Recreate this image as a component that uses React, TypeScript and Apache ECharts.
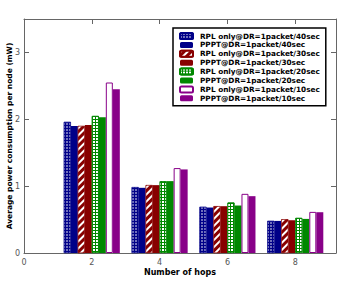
import React, { useEffect, useRef } from "react";
import * as echarts from "echarts";

const hops = [2, 4, 6, 8];
const seriesNames = [
  "RPL only@DR=1packet/40sec",
  "PPPT@DR=1packet/40sec",
  "RPL only@DR=1packet/30sec",
  "PPPT@DR=1packet/30sec",
  "RPL only@DR=1packet/20sec",
  "PPPT@DR=1packet/20sec",
  "RPL only@DR=1packet/10sec",
  "PPPT@DR=1packet/10sec",
];
const rpl40 = [1.96, 0.985, 0.69, 0.48];
const pppt40 = [1.9, 0.975, 0.68, 0.48];
const rpl30 = [1.9, 1.015, 0.7, 0.505];
const pppt30 = [1.915, 1.015, 0.7, 0.49];
const rpl20 = [2.05, 1.075, 0.755, 0.525];
const pppt20 = [2.03, 1.075, 0.71, 0.51];
const rpl10 = [2.55, 1.27, 0.885, 0.615];
const pppt10 = [2.45, 1.25, 0.85, 0.61];
const allValues = [rpl40, pppt40, rpl30, pppt30, rpl20, pppt20, rpl10, pppt10];

const NAVY = "#000088";
const RED = "#880000";
const GREEN = "#008800";
const PURPLE = "#880088";

const styles: any[] = [
  {
    color: NAVY,
    borderColor: NAVY,
    borderWidth: 0.5,
    decal: { symbol: "diamond", symbolSize: 0.9, color: "#ffffff", dashArrayX: [2, 1], dashArrayY: [2, 1] },
  },
  { color: NAVY },
  {
    color: RED,
    borderColor: RED,
    borderWidth: 0.5,
    decal: { symbol: "rect", symbolSize: 1, color: "#ffffff", dashArrayX: [1, 0], dashArrayY: [2, 3], rotation: -Math.PI / 4 },
  },
  { color: RED },
  {
    color: GREEN,
    borderColor: GREEN,
    borderWidth: 0.8,
    decal: { symbol: "rect", symbolSize: 1, color: "#ffffff", dashArrayX: [2, 1], dashArrayY: [2, 1] },
  },
  { color: GREEN },
  {
    color: "#ffffff",
    borderColor: PURPLE,
    borderWidth: 1,
  },
  { color: PURPLE },
];

export default function App() {
  const ref = useRef<HTMLDivElement>(null);
  useEffect(() => {
    if (!ref.current) return;
    const chart = echarts.init(ref.current, null, { renderer: "svg" });
    const axisLine = { show: true, onZero: false, lineStyle: { color: "#666", width: 1 } };
    const tick = { show: true, inside: true, length: 5, lineStyle: { color: "#666" } };
    chart.setOption({
      animation: false,
      backgroundColor: "#ffffff",
      textStyle: { fontFamily: "DejaVu Sans" },
      grid: {
        left: 24,
        top: 19,
        width: 312,
        height: 234,
        containLabel: false,
        outerBoundsMode: "none",
      },
      legend: {
        orient: "vertical",
        left: 173,
        top: 28,
        backgroundColor: "#ffffff",
        borderColor: "#000",
        borderWidth: 1.5,
        borderRadius: 0,
        padding: [4, 6, 4, 6],
        itemGap: 1.4,
        itemWidth: 13,
        itemHeight: 6,
        textStyle: { fontSize: 7.3, fontWeight: "bold", color: "#000", padding: [0, 0, 0, 2] },
        data: seriesNames,
      },
      xAxis: [
        {
          type: "value",
          min: 0,
          max: 9.2,
          interval: 2,
          position: "bottom",
          name: "Number of hops",
          nameLocation: "middle",
          nameGap: 15,
          nameMoveOverlap: false,
          nameTextStyle: { fontSize: 8, fontWeight: "bold", color: "#000" },
          axisLine,
          axisTick: tick,
          axisLabel: { fontSize: 8, color: "#555", margin: 5, showMaxLabel: false },
          splitLine: { show: false },
        },
        {
          type: "value",
          min: 0,
          max: 9.2,
          interval: 2,
          position: "top",
          axisLine,
          axisTick: tick,
          axisLabel: { show: false },
          splitLine: { show: false },
        },
      ],
      yAxis: [
        {
          type: "value",
          min: 0,
          max: 3.5,
          interval: 1,
          position: "left",
          name: "Average power consumption per node (mW)",
          nameLocation: "middle",
          nameGap: 11,
          nameMoveOverlap: false,
          nameTextStyle: { fontSize: 7.5, fontWeight: "bold", color: "#000" },
          axisLine,
          axisTick: tick,
          axisLabel: { fontSize: 8, color: "#555", margin: 4, showMaxLabel: false },
          splitLine: { show: false },
        },
        {
          type: "value",
          min: 0,
          max: 3.5,
          interval: 1,
          position: "right",
          axisLine,
          axisTick: tick,
          axisLabel: { show: false },
          splitLine: { show: false },
        },
      ],
      series: seriesNames.map((name, i) => ({
        name,
        type: "bar",
        xAxisIndex: 0,
        yAxisIndex: 0,
        barWidth: 7,
        barGap: "0%",
        itemStyle: styles[i],
        data: hops.map((h, j) => [h, allValues[i][j]]),
      })),
    });
    return () => chart.dispose();
  }, []);
  return (
    <div
      ref={ref}
      style={{ position: "fixed", left: 0, top: 0, width: 346, height: 284 }}
    />
  );
}
